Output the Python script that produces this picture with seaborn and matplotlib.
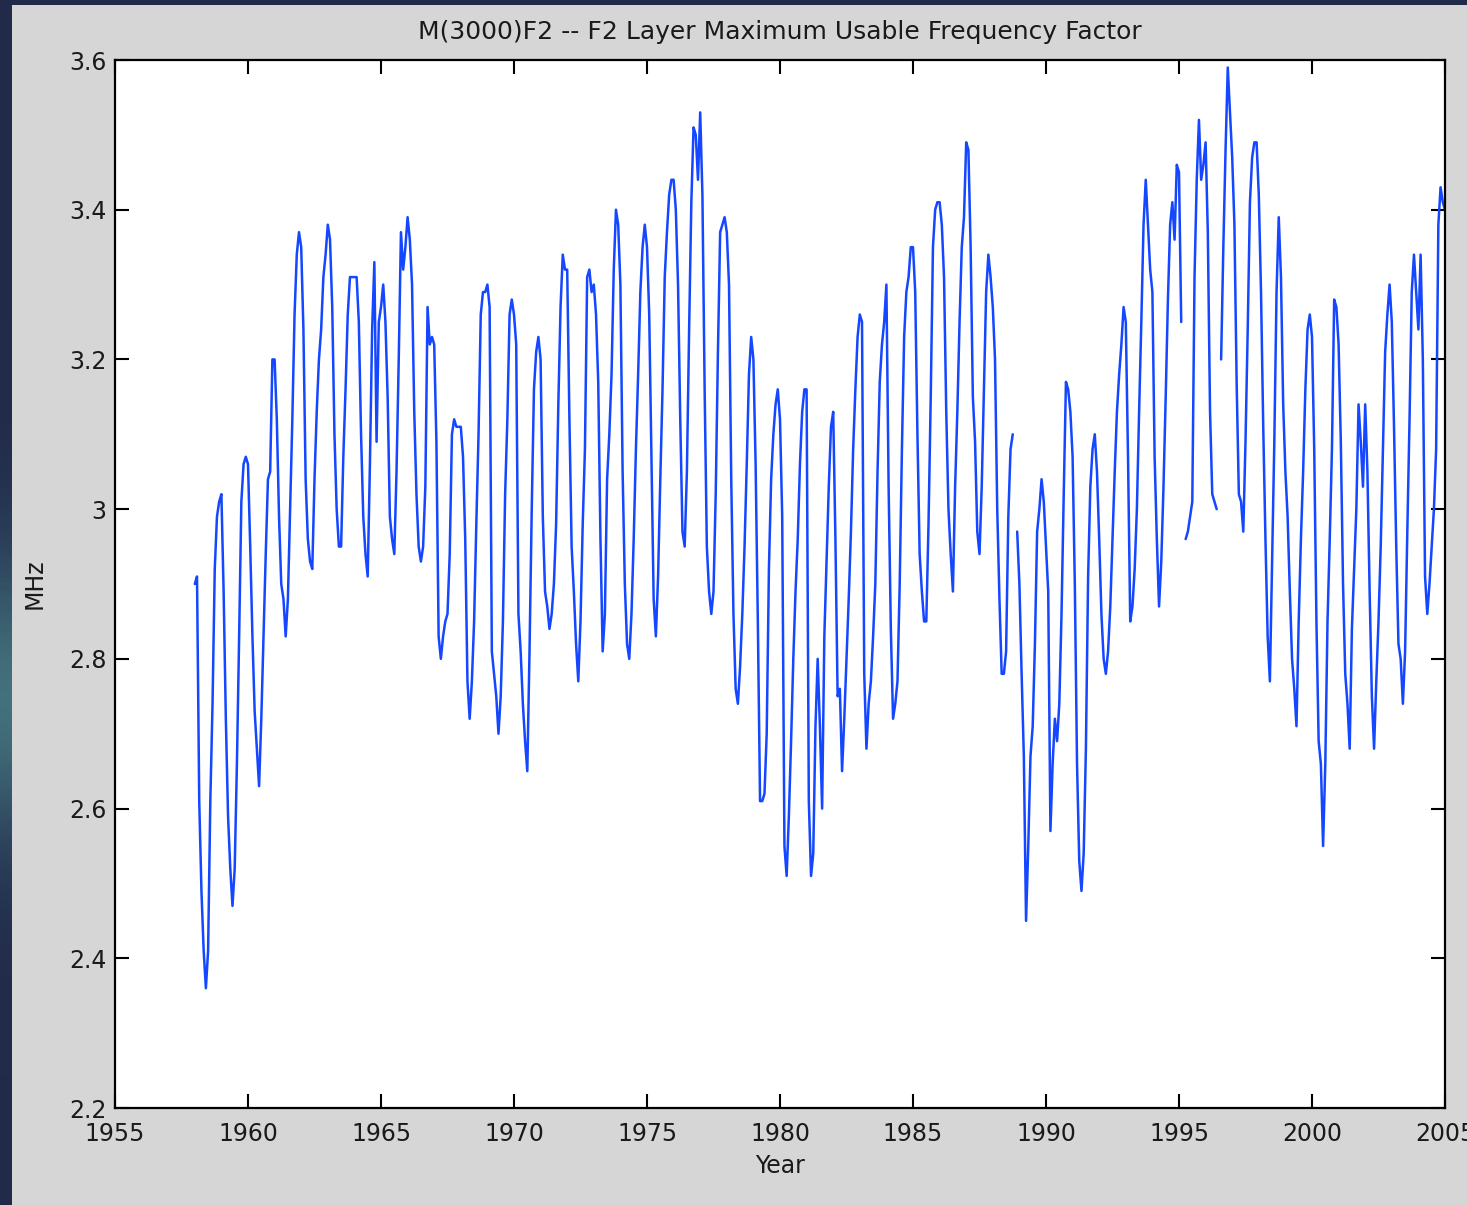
import numpy as np
import pandas as pd
import matplotlib
matplotlib.use("Agg")
import matplotlib.pyplot as plt
import seaborn as sns

# Monthly M(3000)F2 values, January..December, one row per year.
START_YEAR = 1958
nan = float("nan")

mufd_1958_1959 = [
    2.90, 2.91, 2.61, 2.49, 2.41, 2.36, 2.41, 2.61, 2.74, 2.92, 2.99, 3.01,
    3.02, 2.89, 2.72, 2.59, 2.52, 2.47, 2.52, 2.66, 2.83, 3.01, 3.06, 3.07,
]
mufd_1960s = [
    3.06, 2.95, 2.83, 2.73, 2.68, 2.63, 2.72, 2.83, 2.94, 3.04, 3.05, 3.20,
    3.20, 3.12, 2.99, 2.90, 2.88, 2.83, 2.88, 3.00, 3.12, 3.26, 3.34, 3.37,
    3.35, 3.24, 3.04, 2.96, 2.93, 2.92, 3.04, 3.13, 3.20, 3.24, 3.31, 3.34,
    3.38, 3.36, 3.27, 3.10, 3.00, 2.95, 2.95, 3.07, 3.16, 3.26, 3.31, 3.31,
    3.31, 3.31, 3.25, 3.10, 2.99, 2.94, 2.91, 3.06, 3.24, 3.33, 3.09, 3.25,
    3.27, 3.30, 3.25, 3.15, 2.99, 2.96, 2.94, 3.05, 3.20, 3.37, 3.32, 3.35,
    3.39, 3.36, 3.30, 3.13, 3.02, 2.95, 2.93, 2.95, 3.03, 3.27, 3.22, 3.23,
    3.22, 3.09, 2.83, 2.80, 2.83, 2.85, 2.86, 2.94, 3.10, 3.12, 3.11, 3.11,
    3.11, 3.07, 2.96, 2.77, 2.72, 2.77, 2.85, 2.98, 3.10, 3.26, 3.29, 3.29,
    3.30, 3.27, 2.81, 2.78, 2.75, 2.70, 2.75, 2.85, 3.02, 3.12, 3.26, 3.28,
]
mufd_1970s = [
    3.26, 3.22, 2.86, 2.81, 2.74, 2.69, 2.65, 2.81, 3.00, 3.16, 3.21, 3.23,
    3.20, 2.99, 2.89, 2.87, 2.84, 2.86, 2.90, 2.98, 3.14, 3.27, 3.34, 3.32,
    3.32, 3.12, 2.95, 2.89, 2.82, 2.77, 2.85, 2.98, 3.08, 3.31, 3.32, 3.29,
    3.30, 3.26, 3.17, 2.96, 2.81, 2.86, 3.04, 3.10, 3.18, 3.32, 3.40, 3.38,
    3.30, 3.05, 2.90, 2.82, 2.80, 2.86, 2.96, 3.08, 3.18, 3.29, 3.35, 3.38,
    3.35, 3.26, 3.07, 2.88, 2.83, 2.91, 3.04, 3.16, 3.31, 3.37, 3.42, 3.44,
    3.44, 3.40, 3.30, 3.12, 2.97, 2.95, 3.05, 3.24, 3.41, 3.51, 3.50, 3.44,
    3.53, 3.42, 3.16, 2.95, 2.89, 2.86, 2.89, 3.02, 3.21, 3.37, 3.38, 3.39,
    3.37, 3.30, 3.04, 2.86, 2.76, 2.74, 2.79, 2.86, 2.95, 3.06, 3.18, 3.23,
    3.20, 3.06, 2.85, 2.61, 2.61, 2.62, 2.70, 2.92, 3.04, 3.10, 3.14, 3.16,
]
mufd_1980s = [
    3.12, 2.99, 2.55, 2.51, 2.59, 2.69, 2.80, 2.89, 2.96, 3.06, 3.13, 3.16,
    3.16, 2.61, 2.51, 2.54, 2.71, 2.80, 2.71, 2.60, 2.83, 2.93, 3.03, 3.11,
    3.13, 2.96, 2.75, 2.76, 2.65, 2.72, 2.80, 2.88, 2.97, 3.08, 3.16, 3.23,
    3.26, 3.25, 2.78, 2.68, 2.74, 2.77, 2.83, 2.90, 3.05, 3.17, 3.22, 3.25,
    3.30, 3.03, 2.84, 2.72, 2.74, 2.77, 2.90, 3.08, 3.23, 3.29, 3.31, 3.35,
    3.35, 3.29, 3.10, 2.94, 2.89, 2.85, 2.85, 2.98, 3.15, 3.35, 3.40, 3.41,
    3.41, 3.38, 3.31, 3.13, 3.00, 2.94, 2.89, 3.03, 3.13, 3.25, 3.35, 3.39,
    3.49, 3.48, 3.35, 3.15, 3.09, 2.97, 2.94, 3.03, 3.16, 3.29, 3.34, 3.31,
    3.27, 3.20, 3.00, 2.88, 2.78, 2.78, 2.81, 2.99, 3.08, 3.10, nan, 2.97,
    2.90, 2.78, 2.67, 2.45, 2.55, 2.67, 2.71, 2.82, 2.97, 3.00, 3.04, 3.01,
]
mufd_1990s = [
    2.95, 2.89, 2.57, 2.66, 2.72, 2.69, 2.74, 2.86, 3.02, 3.17, 3.16, 3.13,
    3.07, 2.90, 2.66, 2.53, 2.49, 2.54, 2.68, 2.91, 3.03, 3.08, 3.10, 3.05,
    2.96, 2.86, 2.80, 2.78, 2.81, 2.87, 2.96, 3.05, 3.13, 3.18, 3.22, 3.27,
    3.25, 3.07, 2.85, 2.87, 2.92, 3.00, 3.13, 3.25, 3.38, 3.44, 3.38, 3.32,
    3.29, 3.07, 2.96, 2.87, 2.93, 3.03, 3.15, 3.28, 3.38, 3.41, 3.36, 3.46,
    3.45, 3.25, nan, 2.96, 2.97, 2.99, 3.01, 3.31, 3.44, 3.52, 3.44, 3.46,
    3.49, 3.37, 3.13, 3.02, 3.01, 3.00, nan, 3.20, 3.35, 3.48, 3.59, 3.53,
    3.47, 3.38, 3.17, 3.02, 3.01, 2.97, 3.09, 3.24, 3.41, 3.47, 3.49, 3.49,
    3.42, 3.29, 3.11, 2.96, 2.83, 2.77, 2.93, 3.09, 3.29, 3.39, 3.31, 3.14,
    3.05, 2.99, 2.89, 2.80, 2.76, 2.71, 2.85, 2.96, 3.05, 3.16, 3.24, 3.26,
]
mufd_2000s = [
    3.23, 3.08, 2.85, 2.69, 2.66, 2.55, 2.66, 2.85, 2.96, 3.08, 3.28, 3.27,
    3.22, 3.09, 2.90, 2.78, 2.74, 2.68, 2.84, 2.92, 3.00, 3.14, 3.09, 3.03,
    3.14, 3.05, 2.89, 2.75, 2.68, 2.77, 2.85, 2.95, 3.08, 3.21, 3.26, 3.30,
    3.25, 3.11, 2.95, 2.82, 2.80, 2.74, 2.81, 2.97, 3.12, 3.29, 3.34, 3.29,
    3.24, 3.34, 3.20, 2.91, 2.86, 2.90, 2.95, 3.00, 3.08, 3.38, 3.43, 3.41,
    3.40,
]

year_ticks = [1955, 1960, 1965, 1970, 1975, 1980, 1985, 1990, 1995, 2000, 2005]
mhz_ticks = [2.2, 2.4, 2.6, 2.8, 3.0, 3.2, 3.4, 3.6]
mhz_tick_labels = ["2.2", "2.4", "2.6", "2.8", "3", "3.2", "3.4", "3.6"]

# Assemble the monthly series; missing months split the line into pieces.
values = np.array(mufd_1958_1959 + mufd_1960s + mufd_1970s + mufd_1980s
                  + mufd_1990s + mufd_2000s, dtype=float)
year = START_YEAR + np.arange(values.size) / 12.0
piece = np.cumsum(np.isnan(values))
df = pd.DataFrame({"Year": year, "MHz": values, "piece": piece}).dropna()

sns.set_theme(style="ticks")
plt.rcParams["font.family"] = ["DejaVu Sans"]

W, H = 1467, 1205
fig = plt.figure(figsize=(W / 100, H / 100), dpi=100)

# Dark backdrop around the grey figure window
bg = fig.add_axes([0, 0, 1, 1], zorder=-10)
rows = np.linspace(0, 1, 300)
base = np.array([0.13, 0.17, 0.29])
glow = np.array([0.35, 0.62, 0.62])
w = np.exp(-((rows - 0.42) / 0.12) ** 2) * 0.6
col = base[None, :] * (1 - w[:, None]) + glow[None, :] * w[:, None]
img = np.repeat(col[:, None, :], 4, axis=1)
bg.imshow(img, extent=[0, 1, 0, 1], aspect="auto", origin="lower")
bg.add_patch(plt.Rectangle((12 / W, 0), 1 - 12 / W, 1 - 5 / H,
                           transform=bg.transAxes, facecolor="#d6d6d6",
                           edgecolor="none"))
bg.set_xlim(0, 1)
bg.set_ylim(0, 1)
bg.axis("off")

ax = fig.add_axes([115 / W, (H - 1108) / H, (1445 - 115) / W, (1108 - 60) / H])
ax.set_facecolor("white")

sns.lineplot(data=df, x="Year", y="MHz", units="piece", estimator=None,
             sort=False, color="#1447ff", linewidth=1.8, ax=ax)

ax.set_xlim(1955, 2005)
ax.set_ylim(2.2, 3.6)
ax.set_xticks(year_ticks)
ax.set_xticklabels([str(y) for y in year_ticks])
ax.set_yticks(mhz_ticks)
ax.set_yticklabels(mhz_tick_labels)
ax.tick_params(axis="both", direction="in", length=10, width=1.5,
               colors="black", labelsize=17, top=True, right=True,
               labelcolor="#1a1a1a")
ax.tick_params(axis="x", pad=10)
ax.tick_params(axis="y", pad=6)
for s in ax.spines.values():
    s.set_color("black")
    s.set_linewidth(1.6)
    s.set_visible(True)

ax.set_title("M(3000)F2 -- F2 Layer Maximum Usable Frequency Factor",
             fontsize=18, color="#1a1a1a", pad=15)
ax.set_xlabel("Year", fontsize=17, color="#1a1a1a", labelpad=6)
ax.set_ylabel("MHz", fontsize=17, color="#1a1a1a", labelpad=16)

fig.savefig("out.png", dpi=100)
